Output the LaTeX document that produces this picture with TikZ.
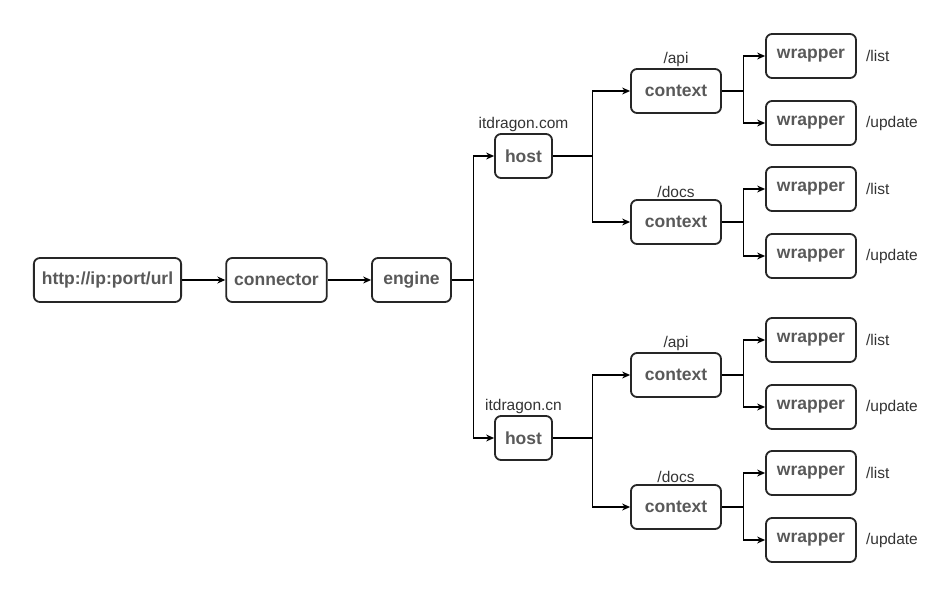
\documentclass[tikz,border=0pt]{standalone}
\usepackage{fontspec}
\setmainfont{Liberation Sans}
\usepackage{tikz}
\usetikzlibrary{arrows.meta,positioning}

\begin{document}
\begin{tikzpicture}[
  x=1pt, y=-1pt,
  >={Stealth[length=8pt,width=7pt]},
  % boxes
  box/.style={draw=black!85, line width=1.8pt, rounded corners=6pt, fill=white,
              minimum height=44pt, inner xsep=8pt,
              text=black!65, font=\fontsize{17.5}{20}\selectfont\bfseries},
  wbox/.style={box, minimum width=90pt},
  % small labels beside the boxes
  lbl/.style={text=black!80, font=\fontsize{15.5}{18}\selectfont, inner sep=1pt},
  rlbl/.style={lbl, label distance=8pt},
  % connectors
  link/.style={draw=black, line width=1.1pt},
  arr/.style={link, ->},
]

\useasboundingbox (0,0) rectangle (948,592);

% ── Column X positions ───────────────────────────────────────────────────
\def\xC{676}    % context
\def\xW{811}    % wrapper

% ── Main chain ───────────────────────────────────────────────────────────
\node[box] (url)  at (107.5,280) {http://ip:port/url};
\node[box] (conn) at (276.5,280) {connector};
\node[box, minimum width=79pt] (eng) at (411.5,280) {engine};

\draw[arr] (url) -- (conn);
\draw[arr] (conn) -- (eng);

% ── Hosts ────────────────────────────────────────────────────────────────
\node[box, minimum width=57pt, label={[lbl]above:itdragon.com}] (hostA) at (523.5,156) {host};
\node[box, minimum width=57pt, label={[lbl]above:itdragon.cn}]  (hostB) at (523.5,438) {host};

\draw[link] (eng.east) -- ++(22,0) coordinate (jE);
\draw[arr] (jE) |- (hostA.west);
\draw[arr] (jE) |- (hostB.west);

% ━━━━━━━━━━━━━━━━━━━━━━━━━━━━━━━━━━━━━━━━━━━━━━━━━━━━━━━━━━━━━━━━━━━━━━━
% itdragon.com
% ━━━━━━━━━━━━━━━━━━━━━━━━━━━━━━━━━━━━━━━━━━━━━━━━━━━━━━━━━━━━━━━━━━━━━━━
\node[wbox, label={[lbl]above:/api}]  (ctxA1) at (\xC,91)  {context};
\node[wbox, label={[lbl]above:/docs}] (ctxA2) at (\xC,222) {context};

\draw[link] (hostA.east) -- ++(40,0) coordinate (jA);
\draw[arr] (jA) |- (ctxA1.west);
\draw[arr] (jA) |- (ctxA2.west);

\node[wbox, label={[rlbl]right:/list}]   (wA1) at (\xW,56)  {wrapper};
\node[wbox, label={[rlbl]right:/update}] (wA2) at (\xW,123) {wrapper};
\node[wbox, label={[rlbl]right:/list}]   (wA3) at (\xW,189) {wrapper};
\node[wbox, label={[rlbl]right:/update}] (wA4) at (\xW,256) {wrapper};

\draw[link] (ctxA1.east) -- ++(22,0) coordinate (jA1);
\draw[arr] (jA1) |- (wA1.west);
\draw[arr] (jA1) |- (wA2.west);
\draw[link] (ctxA2.east) -- ++(22,0) coordinate (jA2);
\draw[arr] (jA2) |- (wA3.west);
\draw[arr] (jA2) |- (wA4.west);

% ━━━━━━━━━━━━━━━━━━━━━━━━━━━━━━━━━━━━━━━━━━━━━━━━━━━━━━━━━━━━━━━━━━━━━━━
% itdragon.cn
% ━━━━━━━━━━━━━━━━━━━━━━━━━━━━━━━━━━━━━━━━━━━━━━━━━━━━━━━━━━━━━━━━━━━━━━━
\node[wbox, label={[lbl]above:/api}]  (ctxB1) at (\xC,375) {context};
\node[wbox, label={[lbl]above:/docs}] (ctxB2) at (\xC,507) {context};

\draw[link] (hostB.east) -- ++(40,0) coordinate (jB);
\draw[arr] (jB) |- (ctxB1.west);
\draw[arr] (jB) |- (ctxB2.west);

\node[wbox, label={[rlbl]right:/list}]   (wB1) at (\xW,340) {wrapper};
\node[wbox, label={[rlbl]right:/update}] (wB2) at (\xW,407) {wrapper};
\node[wbox, label={[rlbl]right:/list}]   (wB3) at (\xW,473) {wrapper};
\node[wbox, label={[rlbl]right:/update}] (wB4) at (\xW,540) {wrapper};

\draw[link] (ctxB1.east) -- ++(22,0) coordinate (jB1);
\draw[arr] (jB1) |- (wB1.west);
\draw[arr] (jB1) |- (wB2.west);
\draw[link] (ctxB2.east) -- ++(22,0) coordinate (jB2);
\draw[arr] (jB2) |- (wB3.west);
\draw[arr] (jB2) |- (wB4.west);

\end{tikzpicture}
\end{document}
